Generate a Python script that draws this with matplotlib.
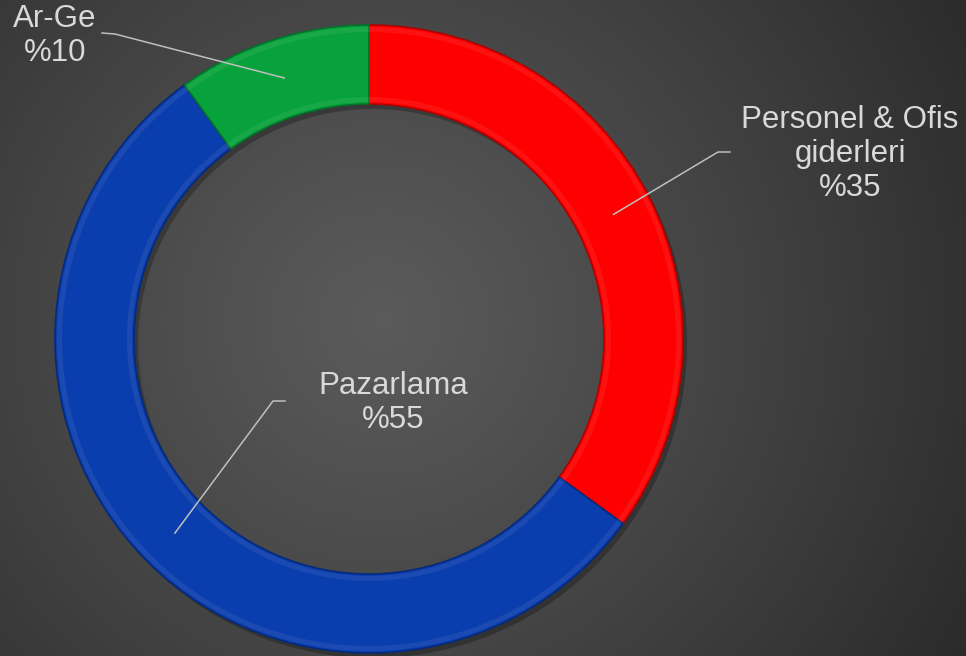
import numpy as np
import matplotlib
matplotlib.use("Agg")
import matplotlib.pyplot as plt

# ---- data ----
labels = ["Personel & Ofis\ngiderleri", "Pazarlama", "Ar-Ge"]
values = [35, 55, 10]
pct_labels = ["%35", "%55", "%10"]
colors = ["#FE0000", "#0A3DAE", "#07A23B"]
edge_colors = ["#B00000", "#062a7a", "#05702a"]

# label text centres (pixels) and leader elbow points (pixels)
label_pos = [(850, 154), (393, 403), (55, 36)]
elbow_pts = [[(730, 152), (718, 152)], [(285, 401), (273, 401)], [(102, 33), (115, 34)]]

W, H = 966, 656
fig = plt.figure(figsize=(W / 100, H / 100), dpi=100)
ax = fig.add_axes([0, 0, 1, 1])

# background radial gradient
yy, xx = np.mgrid[0:H, 0:W]
cx, cy = 380, 320
d = np.sqrt((xx - cx) ** 2 + (yy - cy) ** 2)
t = np.clip(d / 700.0, 0, 1)
c_in, c_out = 0.355, 0.16
g = c_in + (c_out - c_in) * t ** 1.1
img = np.dstack([g, g, g])
ax.imshow(img, extent=(0, W, 0, H), origin="upper", zorder=0, aspect="auto")

center_px = (369, 339)
R = 314
ring_w = 79
center = (center_px[0], H - center_px[1])

# shadow
sh = ax.pie(values, radius=R, center=(center[0] + 4, center[1] - 5), startangle=90,
            counterclock=False, colors=["#000000"] * 3,
            wedgeprops=dict(width=ring_w, linewidth=0, alpha=0.25))
for w in sh[0]:
    w.set_zorder(1)

wedges, _ = ax.pie(values, radius=R, center=center, startangle=90, counterclock=False,
                   colors=colors, wedgeprops=dict(width=ring_w, linewidth=1.2))
for w, ec in zip(wedges, edge_colors):
    w.set_edgecolor(ec)
    w.set_zorder(2)

# subtle bevel highlight near inner and outer edges
for rad in (R - ring_w + 7, R - 2):
    hl = ax.pie(values, radius=rad, center=center, startangle=90, counterclock=False,
                colors=["#FFFFFF"] * 3, wedgeprops=dict(width=5, linewidth=0, alpha=0.07))
    for w in hl[0]:
        w.set_zorder(2.5)

mid_r = R - ring_w / 2
for w, lab, pl, pos, elb in zip(wedges, labels, pct_labels, label_pos, elbow_pts):
    ang = np.deg2rad((w.theta1 + w.theta2) / 2)
    ex = center[0] + mid_r * np.cos(ang)
    ey = center[1] + mid_r * np.sin(ang)
    xs = [p[0] for p in elb] + [ex]
    ys = [H - p[1] for p in elb] + [ey]
    ax.plot(xs, ys, color="#BFBFBF", lw=1.1, zorder=3)
    ax.text(pos[0], H - pos[1], lab + "\n" + pl, ha="center", va="center",
            color="#D9D9D9", fontsize=22.5, family=["Liberation Sans", "DejaVu Sans"],
            linespacing=1.18, zorder=4)

ax.set_xlim(0, W)
ax.set_ylim(0, H)
ax.set_aspect("auto")
ax.axis("off")
fig.savefig("out.png", dpi=100)
